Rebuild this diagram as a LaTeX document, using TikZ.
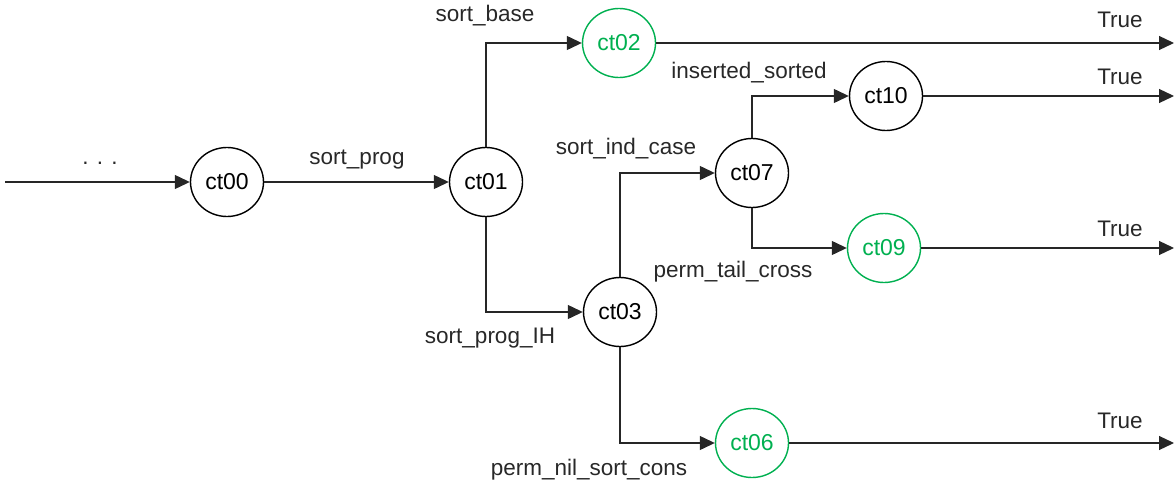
\documentclass[tikz,border=0pt]{standalone}
\usepackage{fontspec}
\setmainfont{Liberation Sans}
\usetikzlibrary{arrows.meta,shapes.geometric}
\definecolor{okgreen}{RGB}{0,176,80}
\definecolor{lbl}{RGB}{40,40,40}
\begin{document}
\begin{tikzpicture}[x=1pt,y=-1pt,
  state/.style={draw=black,line width=1.4pt,ellipse,minimum width=73pt,minimum height=69pt,inner sep=0pt,font=\fontsize{23}{26}\selectfont},
  okstate/.style={state,draw=okgreen,text=okgreen},
  lab/.style={text=lbl,font=\fontsize{22.5}{26}\selectfont,inner sep=0pt},
  conn/.style={line width=1.2pt,draw=black!85,-{Triangle[length=15pt,width=14pt]}}]
\useasboundingbox (0,0) rectangle (1174,484);
\node[state] (ct00) at (227,182) {ct00};
\node[state] (ct01) at (486,182) {ct01};
\node[okstate] (ct02) at (619,43) {ct02};
\node[state] (ct03) at (620,312) {ct03};
\node[state] (ct07) at (752,173) {ct07};
\node[state] (ct10) at (886,96) {ct10};
\node[okstate] (ct09) at (884,248) {ct09};
\node[okstate] (ct06) at (752,443) {ct06};
\coordinate (in) at (5,182);
\coordinate (t1) at (1174,43);
\coordinate (t2) at (1174,96);
\coordinate (t3) at (1174,248);
\coordinate (t4) at (1174,443);
\draw[conn] (in) -- (ct00);
\draw[conn] (ct00) -- (ct01);
\draw[conn] (ct01.north) |- (ct02.west);
\draw[conn] (ct01.south) |- (ct03.west);
\draw[conn] (ct03.north) |- (ct07.west);
\draw[conn] (ct03.south) |- (ct06.west);
\draw[conn] (ct07.north) |- (ct10.west);
\draw[conn] (ct07.south) |- (ct09.west);
\draw[conn] (ct02) -- (t1);
\draw[conn] (ct10) -- (t2);
\draw[conn] (ct09) -- (t3);
\draw[conn] (ct06) -- (t4);
\node[lab] (l0) at (100,163) {. . .};
\node[lab] (l1) at (357,160) {sort\_prog};
\node[lab] (l2) at (485,16) {sort\_base};
\node[lab] (l3) at (490,338) {sort\_prog\_IH};
\node[lab] (l4) at (626,149) {sort\_ind\_case};
\node[lab] (l5) at (749,73) {inserted\_sorted};
\node[lab] (l6) at (733,272) {perm\_tail\_cross};
\node[lab] (l7) at (589,470) {perm\_nil\_sort\_cons};
\node[lab] (l8) at (1120,20) {True};
\node[lab] (l9) at (1120,77) {True};
\node[lab] (l10) at (1120,229) {True};
\node[lab] (l11) at (1120,421) {True};
\end{tikzpicture}
\end{document}
